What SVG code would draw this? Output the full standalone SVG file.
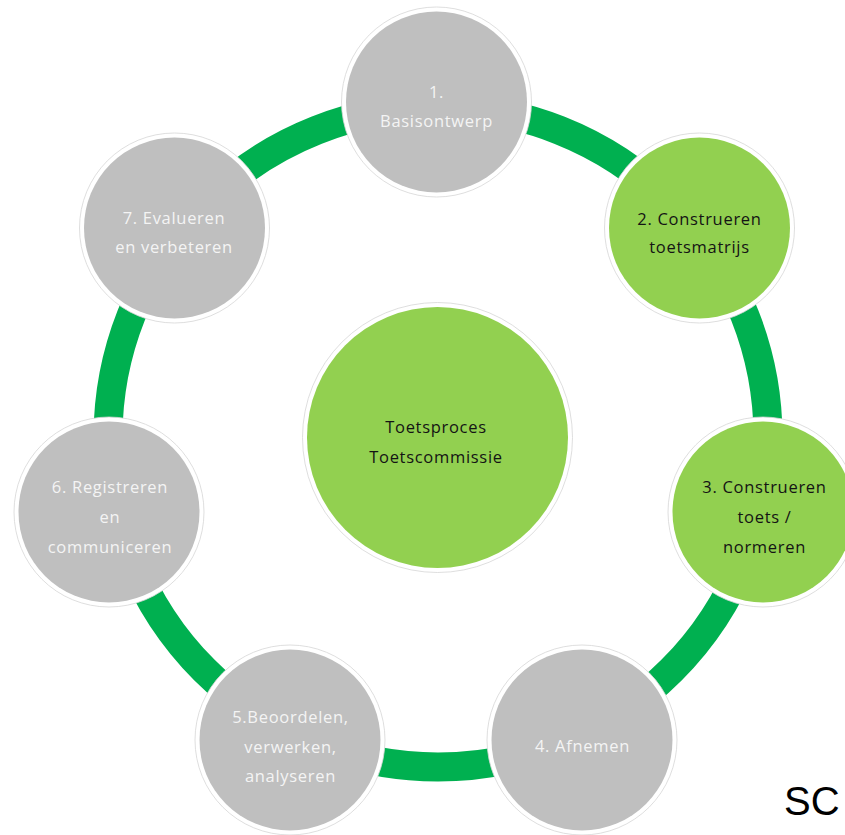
<svg xmlns="http://www.w3.org/2000/svg" width="845" height="835" viewBox="0 0 845 835">
<style>
.ring{fill:none;stroke:#00B050;stroke-width:29}
.halo{fill:#ffffff;stroke:#d6d6d6;stroke-width:0.8}
.gray{fill:#BFBFBF}
.lg{fill:#92D050}
.t{font-family:"Open Sans","Noto Sans",sans-serif;font-size:16.5px;letter-spacing:0.7px;text-anchor:middle}
.tw{fill:#F4F4F4}
.tb{fill:#141414}
.sc{font-family:"Liberation Sans",Arial,sans-serif;font-size:40px;fill:#000}
</style>
<rect width="845" height="835" fill="#ffffff"/>
<g id="connectors">
<circle class="ring" cx="438" cy="437" r="330"/>
</g>
<g id="node1">
<circle class="halo" cx="436.5" cy="102" r="95"/>
<circle class="gray" cx="436.5" cy="102" r="90.5"/>
<text class="t tw" x="436.5" y="98">1.</text>
<text class="t tw" x="436.5" y="127">Basisontwerp</text>
</g>
<g id="node2">
<circle class="halo" cx="699.5" cy="228" r="95"/>
<circle class="lg" cx="699.5" cy="228" r="90.5"/>
<text class="t tb" x="699.5" y="225">2. Construeren</text>
<text class="t tb" x="699.5" y="253">toetsmatrijs</text>
</g>
<g id="node3">
<circle class="halo" cx="763" cy="512" r="95"/>
<circle class="lg" cx="763" cy="512" r="90.5"/>
<text class="t tb" x="764.5" y="493">3. Construeren</text>
<text class="t tb" x="764.5" y="523">toets /</text>
<text class="t tb" x="764.5" y="553">normeren</text>
</g>
<g id="node4">
<circle class="halo" cx="582" cy="740" r="95"/>
<circle class="gray" cx="582" cy="740" r="90.5"/>
<text class="t tw" x="582.5" y="752">4. Afnemen</text>
</g>
<g id="node5">
<circle class="halo" cx="290" cy="740" r="95"/>
<circle class="gray" cx="290" cy="740" r="90.5"/>
<text class="t tw" x="290.5" y="723">5.Beoordelen,</text>
<text class="t tw" x="290.5" y="753">verwerken,</text>
<text class="t tw" x="290.5" y="782">analyseren</text>
</g>
<g id="node6">
<circle class="halo" cx="109" cy="512" r="95"/>
<circle class="gray" cx="109" cy="512" r="90.5"/>
<text class="t tw" x="110" y="493">6. Registreren</text>
<text class="t tw" x="110" y="523">en</text>
<text class="t tw" x="110" y="553">communiceren</text>
</g>
<g id="node7">
<circle class="halo" cx="174.5" cy="228" r="95"/>
<circle class="gray" cx="174.5" cy="228" r="90.5"/>
<text class="t tw" x="174" y="224">7. Evalueren</text>
<text class="t tw" x="174" y="253">en verbeteren</text>
</g>
<g id="center">
<circle class="halo" cx="437.5" cy="437.5" r="135"/>
<circle class="lg" cx="437.5" cy="437.5" r="130.5"/>
<text class="t tb" x="436" y="433">Toetsproces</text>
<text class="t tb" x="436" y="463">Toetscommissie</text>
</g>
<text class="sc" x="784" y="815">SC</text>
</svg>
